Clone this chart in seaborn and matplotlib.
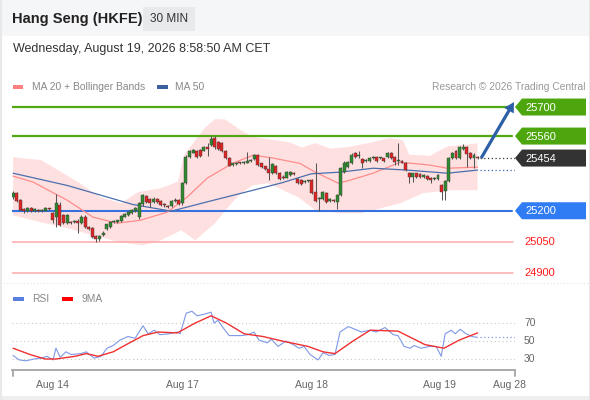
import numpy as np
import pandas as pd
import matplotlib
matplotlib.use("Agg")
import matplotlib.pyplot as plt
from matplotlib.patches import Polygon, Rectangle
import seaborn as sns

# 30 min candles
opens = [25265, 25285, 25250, 25210, 25198, 25214, 25200, 25205, 25198, 25200,
         25210, 25190, 25168, 25230, 25178, 25140, 25148, 25145, 25152, 25140,
         25172, 25120, 25115, 25080, 25062, 25085, 25110, 25120, 25145, 25148,
         25150, 25172, 25180, 25188, 25200, 25170, 25232, 25270, 25255, 25240,
         25258, 25248, 25232, 25225, 25222, 25245, 25250, 25235, 25335, 25460,
         25480, 25490, 25495, 25490, 25505, 25515, 25550, 25530, 25525, 25490,
         25455, 25420, 25425, 25430, 25428, 25432, 25440, 25448, 25468, 25428,
         25414, 25400, 25380, 25415, 25382, 25365, 25360, 25372, 25382, 25355,
         25350, 25340, 25344, 25350, 25290, 25255, 25255, 25285, 25245, 25252,
         25242, 25275, 25385, 25412, 25430, 25478, 25462, 25450, 25440,
         25440, 25455, 25458, 25452, 25452, 25460, 25480, 25460, 25440, 25440,
         25430, 25382, 25362, 25380, 25375, 25365, 25368, 25360, 25352, 25352,
         25325, 25295, 25345, 25455, 25488, 25455, 25500, 25505, 25478, 25455, 25456]
highs = [25295, 25290, 25255, 25215, 25218, 25220, 25212, 25210, 25208, 25218,
         25212, 25195, 25280, 25240, 25185, 25182, 25152, 25155, 25160, 25178,
         25180, 25125, 25120, 25085, 25085, 25100, 25138, 25150, 25155, 25155,
         25180, 25188, 25198, 25210, 25220, 25240, 25280, 25275, 25260, 25265,
         25262, 25252, 25236, 25230, 25250, 25260, 25255, 25340, 25470, 25495,
         25500, 25495, 25500, 25512, 25525, 25560, 25560, 25535, 25530, 25495,
         25460, 25432, 25436, 25434, 25440, 25482, 25450, 25472, 25472, 25432,
         25418, 25460, 25430, 25420, 25386, 25370, 25390, 25392, 25386, 25360,
         25352, 25348, 25350, 25352, 25430, 25265, 25295, 25290, 25260, 25256,
         25280, 25410, 25440, 25440, 25478, 25485, 25490, 25455, 25450,
         25460, 25465, 25462, 25460, 25456, 25485, 25485, 25465, 25525, 25445,
         25435, 25386, 25384, 25384, 25380, 25376, 25372, 25364, 25362, 25375,
         25330, 25350, 25460, 25485, 25492, 25510, 25520, 25510, 25482, 25478, 25462]
lows = [25255, 25240, 25200, 25190, 25192, 25195, 25195, 25192, 25194, 25198,
        25202, 25140, 25120, 25125, 25135, 25135, 25135, 25140, 25095, 25135,
        25115, 25105, 25070, 25050, 25052, 25080, 25105, 25115, 25140, 25142,
        25145, 25168, 25175, 25185, 25195, 25160, 25225, 25235, 25220, 25235,
        25235, 25225, 25220, 25215, 25218, 25240, 25228, 25228, 25330, 25455,
        25476, 25455, 25460, 25486, 25465, 25510, 25500, 25494, 25485, 25450,
        25414, 25415, 25420, 25424, 25424, 25428, 25435, 25444, 25415, 25405,
        25395, 25350, 25375, 25375, 25348, 25352, 25356, 25368, 25370, 25330,
        25325, 25335, 25338, 25280, 25240, 25200, 25250, 25235, 25240, 25244,
        25210, 25270, 25380, 25408, 25425, 25455, 25455, 25405, 25435,
        25436, 25450, 25436, 25448, 25434, 25455, 25450, 25420, 25420, 25428,
        25390, 25335, 25340, 25358, 25358, 25358, 25348, 25335, 25348, 25348,
        25250, 25250, 25340, 25450, 25450, 25450, 25495, 25410, 25450, 25405, 25448]
closes = [25285, 25245, 25205, 25200, 25212, 25198, 25208, 25198, 25204, 25214,
          25206, 25155, 25236, 25130, 25140, 25178, 25140, 25150, 25142, 25172,
          25120, 25112, 25075, 25065, 25080, 25092, 25135, 25145, 25148, 25150,
          25175, 25182, 25192, 25205, 25215, 25236, 25275, 25240, 25235, 25258,
          25240, 25230, 25226, 25220, 25245, 25250, 25232, 25335, 25458, 25488,
          25492, 25460, 25465, 25505, 25500, 25545, 25505, 25498, 25490, 25455,
          25418, 25428, 25432, 25428, 25436, 25440, 25445, 25468, 25420, 25410,
          25400, 25380, 25425, 25380, 25352, 25358, 25385, 25388, 25375, 25335,
          25330, 25344, 25346, 25285, 25248, 25260, 25290, 25240, 25255, 25248,
          25275, 25405, 25432, 25435, 25468, 25460, 25470, 25428, 25446,
          25455, 25460, 25440, 25455, 25438, 25480, 25455, 25435, 25445, 25432,
          25395, 25362, 25380, 25362, 25362, 25372, 25352, 25348, 25358, 25370,
          25290, 25345, 25455, 25480, 25455, 25505, 25505, 25475, 25455, 25470, 25454]

# indicators (x = candle number)
ma20_x = [0, 5.6, 15, 22.2, 28.9, 35.3, 42.8, 48.3, 53.9, 61.1, 66.7, 72.2, 79.7, 83.9,
          90.3, 93.1, 100, 107.5, 115.8, 120.6, 129]
ma20_y = [25367, 25338, 25251, 25169, 25140, 25154, 25193, 25265, 25357, 25430, 25468,
          25454, 25428, 25386, 25333, 25345, 25381, 25434, 25420, 25405, 25410]
ma50_x = [0, 15, 33.3, 43.9, 54.4, 65.8, 74.7, 82.8, 90.8, 100, 109.4, 120.6, 129]
ma50_y = [25381, 25322, 25230, 25198, 25245, 25295, 25335, 25378, 25386, 25405, 25396,
          25381, 25396]
upper_x = [0, 7.8, 17.2, 24.4, 30, 34.7, 41.1, 45.8, 47.5, 50.6, 53.3, 56.1, 58.9, 63.1,
           66.7, 70.8, 76.7, 80.3, 83.9, 88.1, 93.1, 98.6, 104.7, 108.3, 110, 115.8,
           120.6, 129]
upper_y = [25458, 25444, 25347, 25265, 25236, 25290, 25309, 25340, 25470, 25540, 25600,
           25642, 25640, 25590, 25555, 25545, 25530, 25505, 25526, 25500, 25507, 25526,
           25550, 25540, 25470, 25465, 25510, 25525]
lower_x = [0, 7.8, 15, 22.2, 29.7, 36.1, 41.1, 46.7, 50.6, 56.1, 59.7, 63.3, 66.7, 70.8,
           79.2, 83.9, 91.1, 96.7, 107.5, 113.9, 121.4, 129]
lower_y = [25178, 25144, 25116, 25082, 25048, 25033, 25058, 25106, 25058, 25140, 25217,
           25285, 25323, 25333, 25265, 25203, 25188, 25188, 25236, 25285, 25299, 25299]

rsi_x = [0.0, 1.7, 3.6, 5.8, 7.8, 9.4, 11.1, 11.9, 13.1, 14.7,
         16.1, 18.9, 20.3, 22.5, 24.4, 26.1, 27.8, 29.7, 31.9, 33.9,
         36.1, 37.5, 39.2, 40.8, 43.3, 45.6, 46.4, 48.1, 49.7, 51.1,
         53.3, 55.0, 55.8, 56.9, 58.1, 60.0, 63.3, 65.3, 66.9, 68.3,
         70.6, 71.7, 73.6, 75.8, 77.8, 79.4, 80.8, 82.5, 84.7, 86.1,
         87.8, 89.4, 90.8, 93.1, 94.4, 96.7, 99.2, 100.8, 103.3, 105.6,
         106.9, 108.6, 110.3, 111.4, 113.3, 115.6, 117.5, 118.9, 120.0, 121.7,
         122.8, 124.2, 125.8, 127.5, 129.0]
rsi_y = [34, 29, 28, 30, 31, 33, 29, 42, 32, 38,
         35, 36, 38, 31, 33, 42, 45, 51, 55, 53,
         67, 58, 62, 57, 58, 60, 58, 81, 83, 78,
         80, 82, 70, 73, 66, 56, 56, 57, 60, 51,
         48, 52, 44, 50, 46, 42, 44, 35, 29, 37,
         34, 35, 60, 66, 64, 60, 62, 60, 65, 57,
         56, 44, 42, 45, 42, 44, 44, 33, 58, 62,
         58, 63, 58, 55, 54]
ma9_x = [0, 4.7, 8.9, 11.9, 17.2, 20.3, 23.6, 27.8, 31.9, 36.1, 40.3, 45.6, 50.6, 55.0,
         59.2, 64.2, 69.4, 74.7, 81.9, 86.1, 89.4, 94.4, 99.2, 106.9, 114.4, 119.7,
         123.9, 129]
ma9_y = [42, 35, 30, 30, 33, 36, 33, 38, 47, 56, 60, 59, 70, 78, 70, 58, 55, 50, 44, 38,
         36, 50, 62, 61, 46, 42, 51, 59]

date_ticks = [11, 47, 83, 118.5, 138]
date_labels = ["Aug 14", "Aug 17", "Aug 18", "Aug 19", "Aug 28"]
rsi_levels = [70, 50, 30]

res_levels = [25700, 25560]
sup_levels = [25200]
low_levels = [25050, 24900]
target = 25700

sns.set_theme(style="white")
plt.rcParams['font.family'] = ['Liberation Sans', 'DejaVu Sans']

W, H = 590, 400
fig = plt.figure(figsize=(W / 100, H / 100), dpi=100)
fig.patch.set_facecolor("white")

def box(l, t, r, b):
    return [l / W, 1 - b / H, (r - l) / W, (b - t) / H]

ax = fig.add_axes(box(12, 95, 515, 285))
rx = fig.add_axes(box(12, 305, 515, 370))
ov = fig.add_axes([0, 0, 1, 1], zorder=10)
ov.set_xlim(0, W)
ov.set_ylim(H, 0)
ov.axis("off")
ov.patch.set_alpha(0)

xmin, xmax = -0.3, 139.4
ax.set_xlim(xmin, xmax)
ax.set_ylim(24842, 25758)
ax.axis("off")

df = pd.DataFrame({"o": opens, "h": highs, "l": lows, "c": closes})
df["i"] = np.arange(len(df))
last_i = df["i"].iloc[-1]

# bollinger area + moving averages
ax.fill(np.r_[upper_x, lower_x[::-1]], np.r_[upper_y, lower_y[::-1]],
        color="#ffe0e0", lw=0, zorder=1)
sns.lineplot(x=ma20_x, y=ma20_y, ax=ax, color="#ff8c8c", lw=0.9, zorder=3)
sns.lineplot(x=ma50_x, y=ma50_y, ax=ax, color="#4a6fae", lw=0.9, zorder=3)

# levels
for lv in res_levels:
    ax.axhline(lv, 0, 0.994, color="#52a813", lw=1.6, zorder=2)
for lv in sup_levels:
    ax.axhline(lv, 0, 0.994, color="#3572e0", lw=1.5, zorder=2)
for lv in low_levels:
    ax.axhline(lv, 0, 0.996, color="#ffa8a8", lw=1.1, zorder=2)
ax.hlines(closes[-1], last_i + 0.8, xmax, colors="#333333", linestyles=(0, (1, 2)), lw=0.9)
ax.hlines(ma50_y[-1], last_i + 0.8, xmax, colors="#3d62b0", linestyles=(0, (1, 2)), lw=0.9)

# candles
up = df["c"] >= df["o"]
cols = np.where(up, "#2f8a2f", "#e02424")
ax.vlines(df["i"], df["l"], df["h"], color="#555555", lw=0.75, zorder=4)
ax.bar(df["i"], np.maximum((df["c"] - df["o"]).abs(), 5), bottom=np.minimum(df["o"], df["c"]),
       width=0.8, color=cols, edgecolor="#3a3a3a", linewidth=0.3, zorder=5)

# RSI panel
rx.set_xlim(xmin, xmax)
rx.set_ylim(17.8, 90)
for lv in rsi_levels:
    rx.axhline(lv, color="#c8c8c8", lw=0.8, linestyle=(0, (1, 2.5)), zorder=1)
sns.lineplot(x=rsi_x, y=rsi_y, ax=rx, color="#7d98e6", lw=0.8, zorder=3)
sns.lineplot(x=ma9_x, y=ma9_y, ax=rx, color="#f03030", lw=1.0, zorder=4)
rx.hlines(rsi_y[-1], rsi_x[-1] + 0.8, xmax, colors="#7d98e6", linestyles=(0, (1, 2)), lw=0.9)
for s in ["top", "left", "right"]:
    rx.spines[s].set_visible(False)
rx.spines["bottom"].set_color("#aaaaaa")
rx.spines["bottom"].set_linewidth(1.4)
rx.set_yticks([])
rx.set_xticks(date_ticks)
rx.set_xticklabels(date_labels, fontsize=7.5, color="#666666")
rx.tick_params(axis="x", length=0, pad=7)
rx.set_xlabel("")
rx.set_ylabel("")
rx.patch.set_alpha(0)
for lv in rsi_levels:
    ov.text(524, H - rx.transData.transform((0, lv))[1], str(lv), fontsize=7.5,
            color="#666666", va="center", ha="left")
for xp in (12.5, 514.5):
    ov.plot([xp, xp], [370, 376], color="#aaaaaa", lw=1.4)

def py(p):
    return H - ax.transData.transform((0, p))[1]

# price tags on the right
def tag(price, fc):
    y = py(price)
    ov.add_patch(Polygon([(515, y), (522, y - 8.5), (586, y - 8.5), (586, y + 8.5), (522, y + 8.5)],
                         closed=True, fc=fc, ec="none"))
    ov.text(525, y + 0.5, str(price), color="white", fontsize=8, va="center", ha="left")

for lv in res_levels:
    tag(lv, "#4ea60e")
tag(closes[-1], "#333333")
for lv in sup_levels:
    tag(lv, "#2f7cf4")
for lv in low_levels:
    ov.text(524, py(lv) + 0.5, str(lv), color="#ff1a1a", fontsize=8, va="center", ha="left")

# target arrow
x0 = ax.transData.transform((last_i + 1.0, 0))[0]
y0 = py(closes[-1])
x1, y1 = 514, py(target) - 5
ov.arrow(x0, y0, x1 - x0, y1 - y0, width=3.2, head_width=11, head_length=10,
         length_includes_head=True, color="#2d5fa6", lw=0)

# header
ov.add_patch(Rectangle((0, 0), W, 36, fc="#f5f6f8", ec="none"))
ov.add_patch(Rectangle((143, 7), 52, 24, fc="#e8e9eb", ec="none"))
ov.text(12, 19, "Hang Seng (HKFE)", fontsize=10.5, fontweight="bold", color="#222222", va="center")
ov.text(169, 19.5, "30 MIN", fontsize=8.5, color="#333333", va="center", ha="center")
ov.text(13, 49, "Wednesday, August 19, 2026 8:58:50 AM CET", fontsize=9, color="#333333", va="center")

# legends
ov.add_patch(Rectangle((13, 84.5), 10, 4, fc="#ff8080", ec="none"))
ov.text(32, 86.5, "MA 20 + Bollinger Bands", fontsize=7.4, color="#888888", va="center")
ov.add_patch(Rectangle((157, 84.5), 11, 4, fc="#3c5f9e", ec="none"))
ov.text(175, 86.5, "MA 50", fontsize=7.4, color="#888888", va="center")
ov.text(585, 86.5, "Research \u00a9 2026 Trading Central", fontsize=7.4, color="#999999",
        va="center", ha="right")
ov.add_patch(Rectangle((13, 297), 11, 4, fc="#5b7fe0", ec="none"))
ov.text(32, 299, "RSI", fontsize=7.4, color="#888888", va="center")
ov.add_patch(Rectangle((62, 297), 11, 4, fc="#ff0000", ec="none"))
ov.text(82, 299, "9MA", fontsize=7.4, color="#888888", va="center")

# frame
ov.plot([0, W], [283, 283], color="#e4e4e4", lw=0.8, linestyle=(0, (1, 2)))
ov.add_patch(Rectangle((0, 396), W, 4, fc="#eeeeee", ec="none"))
ov.plot([0.5, 0.5], [0, H], color="#e8e8e8", lw=1.5)
ov.plot([W - 0.5, W - 0.5], [0, H], color="#e8e8e8", lw=1.5)

fig.savefig("out.png", dpi=100)
